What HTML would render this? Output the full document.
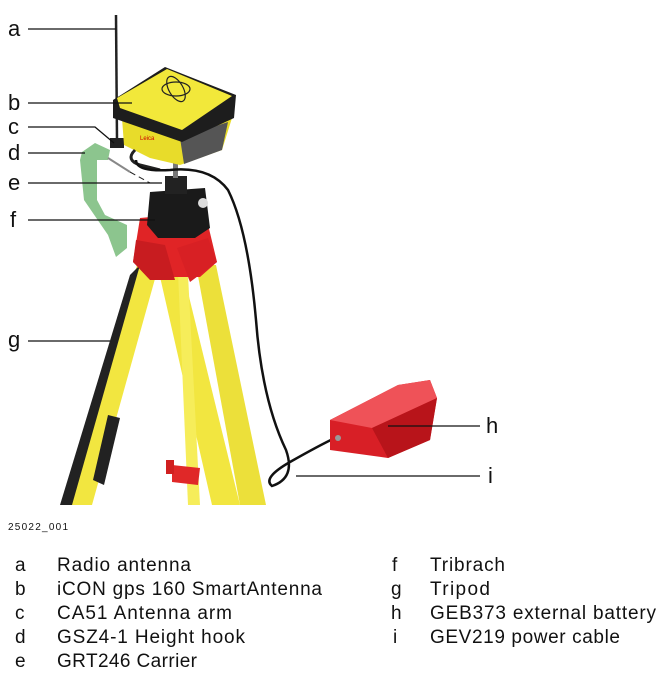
<!DOCTYPE html>
<html><head><meta charset="utf-8"><style>
html,body{margin:0;padding:0;background:#fff;width:665px;height:684px;overflow:hidden}
svg{display:block}
text{font-family:"Liberation Sans",sans-serif;fill:#111}
</style></head><body>
<svg width="665" height="684" viewBox="0 0 665 684" xmlns="http://www.w3.org/2000/svg">
<!-- green height hook -->
<path d="M82,152 L95,143 L110,150 L108,160 L97,160 L97,200 L105,215 L127,225 L127,248 L116,257 L108,235 L84,200 L80,160 Z" fill="#8cc58e"/>
<line x1="108" y1="158" x2="130" y2="172" stroke="#888" stroke-width="2"/>
<line x1="130" y1="172" x2="150" y2="183" stroke="#222" stroke-width="1" stroke-dasharray="6,4"/>
<!-- tripod legs -->
<polygon points="138,262 158,268 92,505 62,505" fill="#f2e640"/>
<polygon points="130,275 140,265 72,505 60,505" fill="#222"/>
<polygon points="108,415 120,418 104,485 93,480" fill="#222"/>
<polygon points="158,268 182,268 240,505 212,505" fill="#f2e640"/>
<polygon points="178,272 188,275 200,505 188,505" fill="#f6ed5a"/>
<polygon points="196,265 216,265 266,505 240,505" fill="#ece03a"/>
<polygon points="172,465 200,468 198,485 172,482" fill="#e02828"/>
<rect x="166" y="460" width="8" height="14" fill="#d02020"/>
<!-- red head -->
<polygon points="140,218 205,212 217,262 200,277 150,277 133,262" fill="#e02426"/>
<polygon points="136,240 165,245 175,280 150,280 133,262" fill="#c81c20"/>
<polygon points="177,248 208,238 217,262 190,282" fill="#d82024"/>
<!-- tribrach -->
<polygon points="150,192 205,188 210,228 195,238 158,238 147,225" fill="#1a1a1a"/>
<rect x="165" y="176" width="22" height="18" fill="#222"/>
<circle cx="203" cy="203" r="5" fill="#ddd"/>
<rect x="173" y="158" width="5" height="20" fill="#777"/>
<!-- antenna -->
<line x1="116" y1="15" x2="117" y2="140" stroke="#222" stroke-width="2.5"/>
<rect x="110" y="138" width="14" height="10" fill="#222"/>
<!-- receiver -->
<polygon points="122,118 232,118 222,150 180,165 150,158 124,145" fill="#e8dc2a"/>
<polygon points="180,138 228,122 222,150 184,164" fill="#555"/>
<polygon points="113,100 165,67 236,95 234,118 182,142 113,118" fill="#1d1d1d"/>
<polygon points="117,98 167,69 232,96 182,130 120,108" fill="#f2e83a"/>
<ellipse cx="176" cy="89" rx="14" ry="7" fill="none" stroke="#222" stroke-width="1.2"/>
<ellipse cx="176" cy="89" rx="14" ry="7" fill="none" stroke="#222" stroke-width="1.2" transform="rotate(60 176 89)"/>
<text x="140" y="140" font-size="6" style="fill:#c00">Leica</text>
<path d="M135,150 Q125,160 140,165 L160,170" fill="none" stroke="#222" stroke-width="3"/>
<!-- cable -->
<path d="M136,160 Q136,172 170,170 Q210,166 228,190 Q248,230 256,320 Q262,400 286,450 Q296,478 272,486 Q262,478 290,462 Q320,445 335,438" fill="none" stroke="#111" stroke-width="2.5"/>
<!-- battery -->
<polygon points="330,420 398,385 430,380 437,398 430,440 388,458 330,450" fill="#d81f26"/>
<polygon points="330,420 398,385 430,380 437,398 372,428" fill="#ef5258"/>
<polygon points="372,428 437,398 430,440 388,458" fill="#b8141a"/>
<circle cx="338" cy="438" r="3" fill="#999"/>
<!-- callout lines -->
<g stroke="#111" stroke-width="1.3" fill="none">
<line x1="28" y1="29" x2="116" y2="29"/>
<line x1="28" y1="103" x2="132" y2="103"/>
<polyline points="28,127 95,127 114,143"/>
<line x1="28" y1="153" x2="85" y2="153"/>
<line x1="28" y1="183" x2="162" y2="183"/>
<line x1="28" y1="220" x2="155" y2="220"/>
<line x1="28" y1="341" x2="110" y2="341"/>
<line x1="388" y1="426" x2="480" y2="426"/>
<line x1="296" y1="476" x2="480" y2="476"/>
</g>
<g font-size="22">
<text x="8" y="36">a</text>
<text x="8" y="110">b</text>
<text x="8" y="134">c</text>
<text x="8" y="160">d</text>
<text x="8" y="190">e</text>
<text x="10" y="227">f</text>
<text x="8" y="347">g</text>
<text x="486" y="433">h</text>
<text x="488" y="483">i</text>
</g>
<text x="8" y="530" font-size="10" textLength="60">25022_001</text>
<g font-size="19">
<text x="15" y="571">a</text><text x="57" y="571" textLength="134">Radio antenna</text>
<text x="15" y="595">b</text><text x="57" y="595" textLength="265">iCON gps 160 SmartAntenna</text>
<text x="15" y="619">c</text><text x="57" y="619" textLength="175">CA51 Antenna arm</text>
<text x="15" y="643">d</text><text x="57" y="643" textLength="188">GSZ4-1 Height hook</text>
<text x="15" y="667">e</text><text x="57" y="667" textLength="140">GRT246 Carrier</text>
<text x="392" y="571">f</text><text x="430" y="571" textLength="75">Tribrach</text>
<text x="391" y="595">g</text><text x="430" y="595" textLength="60">Tripod</text>
<text x="391" y="619">h</text><text x="430" y="619" textLength="226">GEB373 external battery</text>
<text x="393" y="643">i</text><text x="430" y="643" textLength="190">GEV219 power cable</text>
</g>
</svg>
</body></html>
